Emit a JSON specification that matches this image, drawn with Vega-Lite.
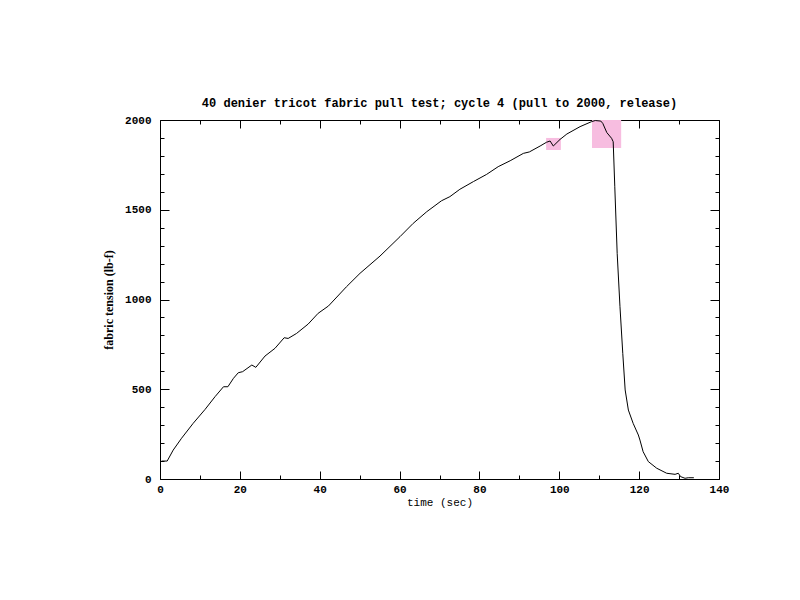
{
  "$schema": "https://vega.github.io/schema/vega-lite/v6.json",
  "autosize": {"type": "none"},
  "padding": {"left": 160, "top": 120, "right": 81, "bottom": 121},
  "width": 559,
  "height": 359,
  "background": "white",
  "title": {"text": "40 denier tricot fabric pull test; cycle 4 (pull to 2000, release)", "font": "Liberation Mono", "fontSize": 12, "fontWeight": "bold", "color": "black", "offset": 4, "anchor": "middle"},
  "config": {"view": {"stroke": null}, "axis": {"grid": false, "labelFlush": false, "domainColor": "black", "tickColor": "black", "labelColor": "black", "titleColor": "black", "labelFont": "Liberation Mono", "labelFontSize": 11, "labelFontWeight": "bold", "titleFont": "Liberation Mono", "titleFontSize": 11, "titleFontWeight": "normal"}},
  "datasets": {
    "boxes": [
      {"t0": 96.7, "t1": 100.4, "f0": 1833, "f1": 1900},
      {"t0": 108.2, "t1": 115.5, "f0": 1844, "f1": 2000}
    ],
    "pull": [
      {"t": 0.4, "f": 100}, {"t": 1.8, "f": 100}, {"t": 3.3, "f": 161}, {"t": 5.4, "f": 227},
      {"t": 8.3, "f": 310}, {"t": 11.3, "f": 388}, {"t": 13.8, "f": 459}, {"t": 15.9, "f": 514},
      {"t": 17.0, "f": 514}, {"t": 18.4, "f": 561}, {"t": 19.6, "f": 592}, {"t": 20.7, "f": 598},
      {"t": 23.0, "f": 635}, {"t": 24.0, "f": 622}, {"t": 26.3, "f": 685}, {"t": 28.8, "f": 728},
      {"t": 31.1, "f": 787}, {"t": 32.1, "f": 783}, {"t": 34.2, "f": 811}, {"t": 37.1, "f": 863},
      {"t": 39.6, "f": 923}, {"t": 42.2, "f": 964}, {"t": 46.7, "f": 1071}, {"t": 50.1, "f": 1146},
      {"t": 55.1, "f": 1242}, {"t": 60.1, "f": 1350}, {"t": 63.4, "f": 1424}, {"t": 66.8, "f": 1489},
      {"t": 70.5, "f": 1550}, {"t": 72.6, "f": 1573}, {"t": 75.1, "f": 1614}, {"t": 78.5, "f": 1657},
      {"t": 81.8, "f": 1697}, {"t": 84.7, "f": 1740}, {"t": 87.7, "f": 1773}, {"t": 91.0, "f": 1814},
      {"t": 92.5, "f": 1822}, {"t": 95.2, "f": 1855}, {"t": 96.8, "f": 1876}, {"t": 97.7, "f": 1883},
      {"t": 98.5, "f": 1855}, {"t": 100.2, "f": 1892}, {"t": 101.9, "f": 1922}, {"t": 105.2, "f": 1963},
      {"t": 108.1, "f": 1991}, {"t": 109.0, "f": 1997}, {"t": 110.4, "f": 1994}, {"t": 110.9, "f": 1981},
      {"t": 111.9, "f": 1930}, {"t": 113.1, "f": 1898}, {"t": 113.5, "f": 1879}, {"t": 113.9, "f": 1628},
      {"t": 114.5, "f": 1257}, {"t": 115.2, "f": 960}, {"t": 115.9, "f": 700}, {"t": 116.5, "f": 496},
      {"t": 117.3, "f": 384}, {"t": 118.5, "f": 310}, {"t": 119.8, "f": 245}, {"t": 120.2, "f": 217},
      {"t": 121.0, "f": 152}, {"t": 122.3, "f": 97}, {"t": 124.4, "f": 60}, {"t": 126.9, "f": 32},
      {"t": 129.0, "f": 26}, {"t": 129.8, "f": 32}, {"t": 130.4, "f": 13}, {"t": 131.5, "f": 4},
      {"t": 132.3, "f": 7}, {"t": 133.7, "f": 7}
    ]
  },
  "layer": [
    {
      "data": {"name": "boxes"},
      "mark": {"type": "rect", "color": "#f7bde0"},
      "encoding": {
        "x": {"field": "t0", "type": "quantitative", "scale": {"domain": [0, 140], "nice": false},
          "axis": {"orient": "top", "title": null, "labels": false, "values": [0,10,20,30,40,50,60,70,80,90,100,110,120,130,140],
            "tickSize": {"condition": {"test": "datum.value % 20 === 0", "value": -8}, "value": -4}}},
        "x2": {"field": "t1"},
        "y": {"field": "f0", "type": "quantitative", "scale": {"domain": [0, 2000], "nice": false},
          "axis": {"orient": "right", "title": null, "labels": false, "values": [0,100,200,300,400,500,600,700,800,900,1000,1100,1200,1300,1400,1500,1600,1700,1800,1900,2000],
            "tickSize": {"condition": {"test": "datum.value % 500 === 0", "value": -9}, "value": -4}}},
        "y2": {"field": "f1"}
      }
    },
    {
      "data": {"name": "pull"},
      "mark": {"type": "line", "color": "black", "strokeWidth": 1},
      "encoding": {
        "x": {"field": "t", "type": "quantitative", "scale": {"domain": [0, 140], "nice": false},
          "axis": {"orient": "bottom", "title": "time (sec)", "values": [0,10,20,30,40,50,60,70,80,90,100,110,120,130,140],
            "format": "d", "labelExpr": "datum.value % 20 === 0 ? datum.label : ''", "labelPadding": 12, "titlePadding": 2,
            "tickSize": {"condition": {"test": "datum.value % 20 === 0", "value": -8}, "value": -4}}},
        "y": {"field": "f", "type": "quantitative", "scale": {"domain": [0, 2000], "nice": false},
          "axis": {"orient": "left", "title": "fabric tension (lb-f)", "titleFont": "Liberation Serif", "titleFontSize": 12, "titleFontWeight": "bold",
            "values": [0,100,200,300,400,500,600,700,800,900,1000,1100,1200,1300,1400,1500,1600,1700,1800,1900,2000],
            "format": "d", "labelExpr": "datum.value % 500 === 0 ? datum.label : ''", "labelPadding": 18, "titlePadding": 9,
            "tickSize": {"condition": {"test": "datum.value % 500 === 0", "value": -9}, "value": -4}}}
      }
    }
  ]
}
